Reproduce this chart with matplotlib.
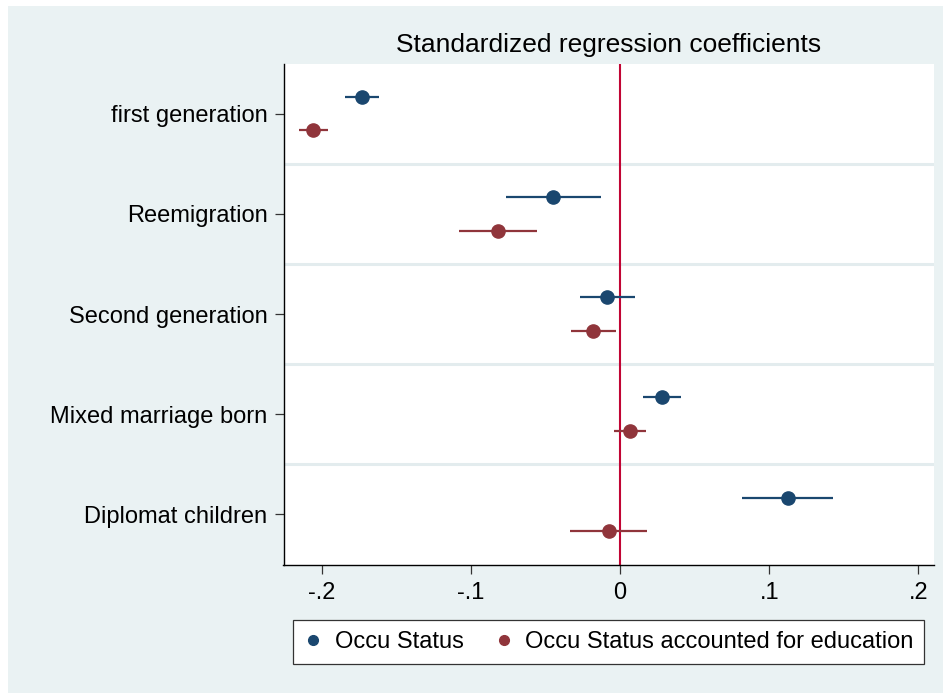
import numpy as np
import matplotlib
matplotlib.use("Agg")
import matplotlib.pyplot as plt
from matplotlib.lines import Line2D
from matplotlib.patches import Rectangle

plt.rcParams["font.family"] = ["Liberation Sans", "DejaVu Sans"]

categories = ["first generation", "Reemigration", "Second generation",
              "Mixed marriage born", "Diplomat children"]

# Occu Status: point estimate and confidence bounds
occu_coef = [-0.173, -0.0446, -0.0084, 0.0279, 0.1123]
occu_lo = [-0.184, -0.0762, -0.027, 0.0152, 0.0819]
occu_hi = [-0.1617, -0.0127, 0.0098, 0.0411, 0.1424]

# Occu Status accounted for education
edu_coef = [-0.2057, -0.0816, -0.0178, 0.0065, -0.0076]
edu_lo = [-0.215, -0.1077, -0.0327, -0.0042, -0.0332]
edu_hi = [-0.196, -0.0555, -0.0026, 0.0175, 0.0181]

xticks = [-0.2, -0.1, 0.0, 0.1, 0.2]
xticklabels = ["-.2", "-.1", "0", ".1", ".2"]

series_names = ["Occu Status", "Occu Status accounted for education"]
blue = "#1a476f"
maroon = "#90353b"
bg = "#eaf2f3"

W, H = 943, 693
fig = plt.figure(figsize=(W / 100, H / 100), dpi=100)
fig.patch.set_facecolor("white")
# graph region background (small white strip on top and left)
fig.patches.append(Rectangle((8 / W, 0), 1 - 8 / W, 1 - 6 / H,
                             transform=fig.transFigure, facecolor=bg,
                             edgecolor="none", zorder=-10))

left, right = 283.5 / W, 934 / W
bottom, top = 1 - 564.5 / H, 1 - 63.5 / H
ax = fig.add_axes([left, bottom, right - left, top - bottom])
ax.set_facecolor("white")

y = np.arange(len(categories))
off = 0.167

# separators between groups
for k in range(1, len(categories)):
    ax.axhline(k - 0.5, color="#e3ecee", lw=2.2, zorder=1)

ax.axvline(0, color="#c10534", lw=1.5, zorder=2)

ax.hlines(y - off, occu_lo, occu_hi, color=blue, lw=1.6, zorder=3)
ax.plot(occu_coef, y - off, "o", color=blue, ms=9.5, zorder=4)
ax.hlines(y + off, edu_lo, edu_hi, color=maroon, lw=1.6, zorder=3)
ax.plot(edu_coef, y + off, "o", color=maroon, ms=9.5, zorder=4)

ax.set_xlim(-0.2255, 0.2104)
ax.set_ylim(len(categories) - 0.5, -0.5)
ax.set_xticks(xticks)
ax.set_xticklabels(xticklabels)
ax.set_yticks(y)
ax.set_yticklabels(categories)
ax.tick_params(axis="both", labelsize=17, length=6.5, width=0.9,
               color="#333333", direction="out")
ax.tick_params(axis="y", pad=5)
ax.tick_params(axis="x", pad=6)

for side in ["top", "right"]:
    ax.spines[side].set_visible(False)
for side in ["left", "bottom"]:
    ax.spines[side].set_linewidth(1.0)
    ax.spines[side].set_color("black")

fig.text((left + right) / 2, 1 - 45 / H, "Standardized regression coefficients",
         ha="center", va="center", fontsize=19)

handles = [Line2D([], [], marker="o", ls="none", color=blue, ms=7),
           Line2D([], [], marker="o", ls="none", color=maroon, ms=7)]
leg = fig.legend(handles, series_names, loc="center",
                 bbox_to_anchor=(608.5 / W, 1 - 642 / H), ncol=2,
                 fontsize=17, frameon=True, fancybox=False,
                 edgecolor="#333333", facecolor="white", framealpha=1,
                 handlelength=0.8, handletextpad=0.5, columnspacing=1.3,
                 borderpad=0.45)
leg.get_frame().set_linewidth(0.9)

fig.savefig("out.png", dpi=100, facecolor=fig.get_facecolor())
